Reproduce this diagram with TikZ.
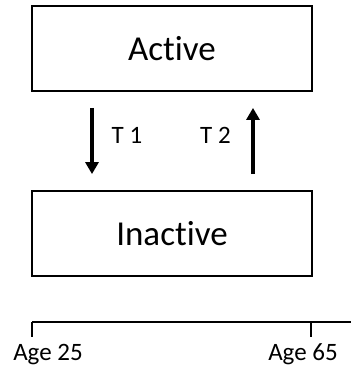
\documentclass[tikz,border=0pt]{standalone}
\usepackage{fontspec}
\setmainfont[Ligatures=NoCommon]{Carlito}
\usetikzlibrary{arrows.meta}
\begin{document}
\begin{tikzpicture}[x=1pt,y=-1pt,
  statebox/.style={draw=black, line width=1.8pt, minimum width=280pt, minimum height=85pt, inner sep=0pt, font=\fontsize{35}{40}\selectfont},
  trans/.style={line width=3.5pt, -{Triangle[length=12pt,width=13pt]}, shorten <=16pt, shorten >=16pt},
  lab/.style={font=\fontsize{25}{29}\selectfont, anchor=base, inner sep=0pt},
  axis/.style={line width=1.8pt}]
\useasboundingbox (0,0) rectangle (351,373);
\node[statebox] (active) at (172,48.5) {Active};
\node[statebox] (inactive) at (172,233.5) {Inactive};
\draw[trans] (active.south -| 92,0) -- (inactive.north -| 92,0);
\draw[trans] (inactive.north -| 253,0) -- (active.south -| 253,0);
\node[lab] (t1) at (127,143) {T 1};
\node[lab] (t2) at (215.5,143) {T 2};
\coordinate (a0) at (32,322);
\coordinate (a1) at (357,322);
\coordinate (k1) at (311,322);
\draw[axis, -{Triangle[length=6pt,width=6pt]}] (a0) -- (a1);
\draw[axis] (a0) -- ++(0,15);
\draw[axis] (k1) -- ++(0,15);
\node[lab] (age25) at (48,360) {Age 25};
\node[lab] (age65) at (303,360) {Age 65};
\end{tikzpicture}
\end{document}
